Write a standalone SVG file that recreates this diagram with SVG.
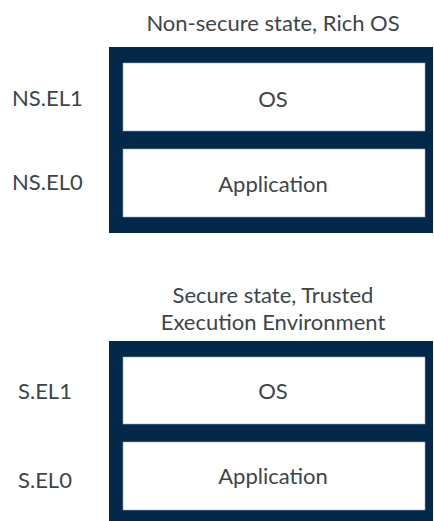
<svg xmlns="http://www.w3.org/2000/svg" width="434" height="521" viewBox="0 0 434 521">
<style>
text{font-family:Lato,"Noto Sans",sans-serif;font-size:22px;fill:#3d454b}
.c{text-anchor:middle}
.frame{fill:#03284a}
.cell{fill:#ffffff;stroke:#9aa7b4;stroke-width:0.6}
</style>
<rect width="434" height="521" fill="#ffffff"/>
<g id="ns-title"><text class="c" x="273" y="31">Non-secure state, Rich OS</text></g>
<g id="ns-frame">
<rect class="frame" x="109" y="47" width="324" height="186"/>
<rect id="ns-os" class="cell" x="123" y="63" width="302" height="68"/>
<rect id="ns-app" class="cell" x="123" y="149" width="302" height="68"/>
</g>
<g id="ns-os-label"><text class="c" x="273" y="107">OS</text></g>
<g id="ns-app-label"><text class="c" x="273" y="192">Application</text></g>
<g id="ns-el1"><text x="12" y="106">NS.EL1</text></g>
<g id="ns-el0"><text x="12" y="190">NS.EL0</text></g>
<g id="s-title"><text class="c" x="273" y="303">Secure state, Trusted</text><text class="c" x="273" y="330">Execution Environment</text></g>
<g id="s-frame">
<rect class="frame" x="109" y="341" width="324" height="190"/>
<rect id="s-os" class="cell" x="123" y="357" width="302" height="67"/>
<rect id="s-app" class="cell" x="123" y="442" width="302" height="68"/>
</g>
<g id="s-os-label"><text class="c" x="273" y="399">OS</text></g>
<g id="s-app-label"><text class="c" x="273" y="484">Application</text></g>
<g id="s-el1"><text x="18" y="399">S.EL1</text></g>
<g id="s-el0"><text x="18" y="488">S.EL0</text></g>
<g id="connectors"></g>
</svg>
